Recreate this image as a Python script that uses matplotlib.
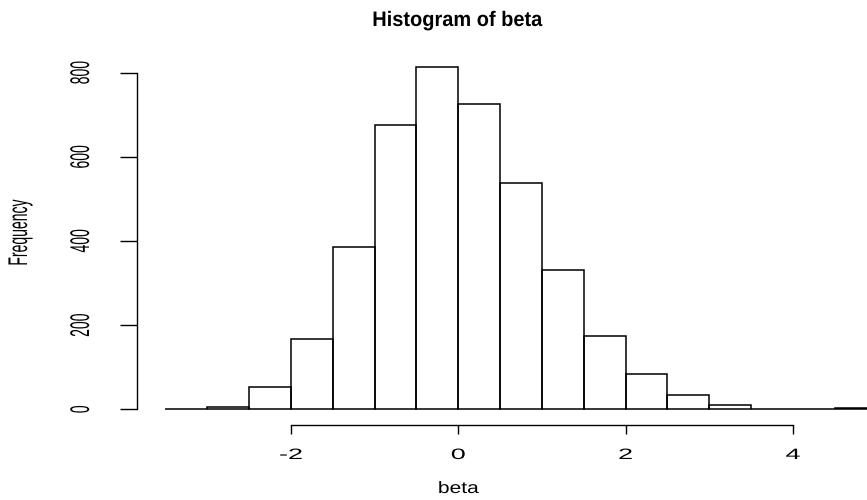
import matplotlib
matplotlib.use("Agg")
import matplotlib.pyplot as plt
from matplotlib.textpath import TextPath
from matplotlib.patches import PathPatch
from matplotlib.font_manager import FontProperties
from matplotlib.transforms import Affine2D

# histogram of beta: bin edges and counts
bin_edges = [-3.5, -3.0, -2.5, -2.0, -1.5, -1.0, -0.5, 0.0, 0.5,
             1.0, 1.5, 2.0, 2.5, 3.0, 3.5, 4.0, 4.5, 5.0]
counts = [1, 6, 52, 167, 386, 676, 814, 726, 538, 331, 174, 83, 34, 11, 1, 1, 2]
x_ticks = [-2, 0, 2, 4]
y_ticks = [0, 200, 400, 600, 800]

W, H = 867, 500
fig = plt.figure(figsize=(W / 100, H / 100), dpi=100)

# plot region in pixels: x 137..905, y 53..423 (from top)
ax = fig.add_axes([137 / W, (H - 423) / H, 768 / W, 370 / H])
ax.bar(bin_edges[:-1], counts, width=0.5, align="edge", fill=False,
       edgecolor="black", linewidth=1.1, clip_on=False)
ax.set_xlim(-3.84, 5.34)
ax.set_ylim(-32.56, 846.56)

for side in ["top", "right"]:
    ax.spines[side].set_visible(False)
ax.spines["left"].set_bounds(0, 800)
ax.spines["bottom"].set_bounds(-2, 4)
ax.spines["bottom"].set_position(("outward", 1.5))
ax.set_xticks(x_ticks)
ax.set_yticks(y_ticks)
ax.tick_params(axis="x", length=6.5, width=1.0, labelbottom=False)
ax.tick_params(axis="y", length=12.2, width=1.0, labelleft=False)
for sp in ax.spines.values():
    sp.set_linewidth(1.0)


def draw_text(s, x, y, ex, ey, rot=0, weight="normal"):
    # text drawn as a path so the x and y em sizes can differ;
    # (x, y) is the baseline centre in pixels from the top-left
    prop = FontProperties(family=["Liberation Sans", "DejaVu Sans"], weight=weight)
    path = TextPath((0, 0), s, size=1, prop=prop)
    ext = path.get_extents()
    t = (Affine2D().translate(-(ext.x0 + ext.x1) / 2, 0)
         .rotate_deg(rot).scale(ex, ey).translate(x, H - y))
    fig.add_artist(PathPatch(path, transform=t, facecolor="black",
                             edgecolor="none"))


def to_px(xd, yd):
    px, py = ax.transData.transform((xd, yd))
    return px, H - py


# title and axis labels
draw_text("Histogram of beta", 458, 26, 20, 21, weight="bold")
draw_text("beta", 459, 493, 21, 16.5)
draw_text("Frequency", 27, 232, 27, 14, rot=90)

for v in x_ticks:
    px, _ = to_px(v, 0)
    draw_text(str(v), px, 459, 27, 15)
for v in y_ticks:
    _, py = to_px(0, v)
    draw_text(str(v), 89, py, 27, 14, rot=90)

fig.savefig("out.png", dpi=100)
